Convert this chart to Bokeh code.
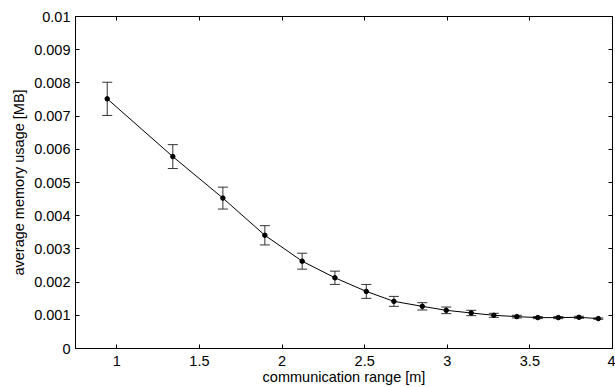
from bokeh.plotting import figure
from bokeh.models import (ColumnDataSource, Whisker, TeeHead, LinearAxis, FixedTicker, Range1d,
                          CustomLabelingPolicy)
from bokeh.embed import file_html
from bokeh.resources import INLINE

# data
comm_range = [0.942, 1.339, 1.642, 1.896, 2.122, 2.320, 2.510, 2.677, 2.849,
              2.994, 3.145, 3.282, 3.421, 3.548, 3.672, 3.797, 3.914]
mem_usage = [0.00752, 0.00578, 0.00453, 0.00341, 0.00263, 0.00213, 0.00172,
             0.00142, 0.00127, 0.00115, 0.00107, 0.00100, 0.00096, 0.00093,
             0.00093, 0.00094, 0.00090]
mem_err = [0.00050, 0.00036, 0.00033, 0.00029, 0.00024, 0.00020, 0.00021,
           0.00015, 0.00011, 0.00010, 0.00008, 0.00006, 0.00004, 0.00003,
           0.00003, 0.00003, 0.00002]

x_ticks = [1, 1.5, 2, 2.5, 3, 3.5, 4]
x_tick_labels = ["1", "1.5", "2", "2.5", "3", "3.5", "4"]
y_ticks = [0, 0.001, 0.002, 0.003, 0.004, 0.005, 0.006, 0.007, 0.008, 0.009, 0.01]
y_tick_labels = ["0", "0.001", "0.002", "0.003", "0.004", "0.005", "0.006",
                 "0.007", "0.008", "0.009", "0.01"]

FONT = "Liberation Sans"
FS = "14.5px"

src = ColumnDataSource(dict(
    x=comm_range, y=mem_usage,
    upper=[v + e for v, e in zip(mem_usage, mem_err)],
    lower=[v - e for v, e in zip(mem_usage, mem_err)],
))

p = figure(width=615, height=387, output_backend="svg", toolbar_location=None,
           x_range=Range1d(0.75, 4), y_range=Range1d(0, 0.01),
           min_border_left=75, min_border_right=3, min_border_top=16,
           min_border_bottom=38)
p.background_fill_color = "white"
p.border_fill_color = "white"
p.outline_line_color = "black"
p.xgrid.visible = False
p.ygrid.visible = False

for ax, ticks, labels in ((p.xaxis[0], x_ticks, x_tick_labels), (p.yaxis[0], y_ticks, y_tick_labels)):
    ax.ticker = FixedTicker(ticks=ticks)
    ax.major_label_overrides = dict(zip(ticks, labels))
    ax.major_tick_in = 4
    ax.major_tick_out = 0
    ax.minor_tick_line_color = None
    ax.axis_line_color = "black"
    ax.major_tick_line_color = "black"
    ax.major_label_text_font = FONT
    ax.major_label_text_font_size = FS
    ax.major_label_text_color = "black"
    ax.axis_label_text_font = FONT
    ax.axis_label_text_font_size = FS
    ax.axis_label_text_font_style = "normal"
    ax.axis_label_text_color = "black"

p.xaxis[0].axis_label = "communication range [m]"
p.yaxis[0].axis_label = "average memory usage [MB]"
p.xaxis[0].major_label_standoff = 7
p.xaxis[0].axis_label_standoff = 0
p.yaxis[0].major_label_standoff = 5
p.yaxis[0].axis_label_standoff = 4

hide_all = "const all = [...indices]; for (const i of all) indices.unset(i); return indices"
top = LinearAxis(ticker=FixedTicker(ticks=x_ticks), major_tick_in=4, major_tick_out=0,
                 minor_tick_line_color=None, major_label_standoff=0,
                 major_label_text_font_size="0px",
                 major_label_policy=CustomLabelingPolicy(code=hide_all))
right = LinearAxis(ticker=FixedTicker(ticks=y_ticks), major_tick_in=4, major_tick_out=0,
                   minor_tick_line_color=None, major_label_standoff=0,
                   major_label_text_font_size="0px",
                   major_label_policy=CustomLabelingPolicy(code=hide_all))
p.add_layout(top, "above")
p.add_layout(right, "right")

EB = "#333333"
p.add_layout(Whisker(source=src, base="x", upper="upper", lower="lower",
                     line_color=EB, line_width=1,
                     upper_head=TeeHead(size=10, line_color=EB, line_width=1),
                     lower_head=TeeHead(size=10, line_color=EB, line_width=1)))

p.line("x", "y", source=src, line_color="black", line_width=1)
p.scatter("x", "y", source=src, size=4.5, color="black")

open("out.html", "w").write(file_html(p, INLINE))
